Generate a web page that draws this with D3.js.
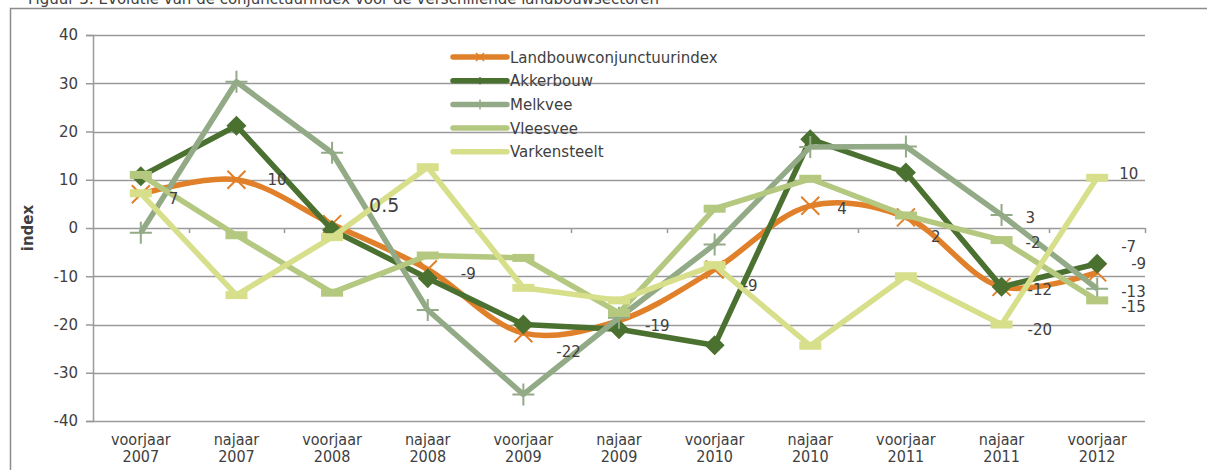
<!DOCTYPE html>
<html>
<head>
<meta charset="utf-8">
<style>
  body { margin: 0; background: #fff; }
  svg { display: block; font-family: "DejaVu Sans", Verdana, sans-serif; }
</style>
</head>
<body>
<svg width="1207" height="470"></svg>
<script src="https://d3js.org/d3.v7.min.js"></script>
<script>

var categories = [
  ["voorjaar", "2007"], ["najaar", "2007"], ["voorjaar", "2008"], ["najaar", "2008"],
  ["voorjaar", "2009"], ["najaar", "2009"], ["voorjaar", "2010"], ["najaar", "2010"],
  ["voorjaar", "2011"], ["najaar", "2011"], ["voorjaar", "2012"]
];

var landbouw     = [7, 10, 0.8, -8.6, -21.8, -19.2, -8.6, 4.6, 2.2, -12.2, -9.2];
var akkerbouw    = [10.7, 21.2, -0.4, -10.4, -20, -21, -24.3, 18.4, 11.5, -12.2, -7.4];
var melkvee      = [-1, 30.3, 15.6, -17, -34.5, -18.6, -3.4, 16.8, 16.9, 2.7, -12.6];
var vleesvee     = [11, -1.5, -13.4, -5.7, -6.2, -17.6, 4, 10.2, 2.6, -2.5, -15];
var varkensteelt = [7.2, -13.9, -1.9, 12.6, -12.4, -15, -7.7, -24.4, -10, -20, 10.4];

var yTicks = [40, 30, 20, 10, 0, -10, -20, -30, -40];

var seriesNames = ["Landbouwconjunctuurindex", "Akkerbouw", "Melkvee", "Vleesvee", "Varkensteelt"];

// data labels: series index, point index, text
var dataLabels = [
  [0, 0, "7"], [0, 1, "10"], [0, 2, "0.5"], [0, 3, "-9"], [0, 4, "-22"], [0, 5, "-19"],
  [0, 6, "-9"], [0, 7, "4"], [0, 8, "2"], [0, 9, "-12"], [0, 10, "-9"],
  [1, 10, "-7"], [2, 9, "3"], [2, 10, "-13"], [3, 9, "-2"], [3, 10, "-15"],
  [4, 9, "-20"], [4, 10, "10"]
];

var svg = d3.select("svg"),
    margin = {top: 35, right: 62, bottom: 49, left: 93},
    width = +svg.attr("width") - margin.left - margin.right,
    height = +svg.attr("height") - margin.top - margin.bottom,
    g = svg.append("g").attr("transform", "translate(" + margin.left + "," + margin.top + ")");

var colors = ["#e0802a", "#4a7130", "#93aa86", "#b4c880", "#d7df8b"];
var gridColor = "#9a9a9a";
var textColor = "#404040";

// title (cut off at the top) and outer frame
svg.append("text")
  .attr("x", 28).attr("y", 4)
  .attr("font-size", 15).attr("fill", textColor)
  .text("Figuur 3: Evolutie van de conjunctuurindex voor de verschillende landbouwsectoren");

svg.append("path")
  .attr("d", "M10.5,470 V8.5 H1207")
  .attr("fill", "none").attr("stroke", "#8c8c8c").attr("stroke-width", 1.5);

var x = d3.scaleBand()
  .domain(d3.range(categories.length))
  .range([0, width]);

var y = d3.scaleLinear()
  .domain([-40, 40])
  .range([height, 0]);

var cx = function(i) { return x(i) + x.bandwidth() / 2; };

// gridlines
g.append("g")
  .selectAll("line")
  .data(yTicks)
  .join("line")
  .attr("x1", 0).attr("x2", width)
  .attr("y1", function(d) { return Math.round(y(d)) + 0.5; })
  .attr("y2", function(d) { return Math.round(y(d)) + 0.5; })
  .attr("stroke", gridColor).attr("stroke-width", 1.5);

// y axis
var yAxis = g.append("g")
  .call(d3.axisLeft(y).tickValues(yTicks).tickSize(7).tickPadding(8)
    .tickFormat(function(d) { return String(d); }));
yAxis.select(".domain").attr("stroke", gridColor).attr("stroke-width", 1.5);
yAxis.selectAll(".tick line").attr("stroke", gridColor).attr("stroke-width", 1.5);
yAxis.selectAll("text").attr("font-size", 15).attr("fill", textColor)
  .attr("font-family", "DejaVu Sans, Verdana, sans-serif");

g.append("text")
  .attr("transform", "translate(-60," + (y(0)) + ") rotate(-90)")
  .attr("text-anchor", "middle")
  .attr("font-size", 15).attr("font-weight", "bold").attr("fill", textColor)
  .text("index");

// x axis at zero with ticks between categories
var xAxisG = g.append("g").attr("transform", "translate(0," + y(0) + ")");
xAxisG.selectAll("line")
  .data(d3.range(1, categories.length + 1))
  .join("line")
  .attr("x1", function(i) { return Math.round(x(i) !== undefined ? x(i) : width) + 0.5; })
  .attr("x2", function(i) { return Math.round(x(i) !== undefined ? x(i) : width) + 0.5; })
  .attr("y1", 0).attr("y2", 5)
  .attr("stroke", gridColor).attr("stroke-width", 1.5);

// bottom category labels
var xl = g.append("g").attr("transform", "translate(0," + height + ")");
categories.forEach(function(c, i) {
  var t = xl.append("text")
    .attr("x", cx(i)).attr("y", 24)
    .attr("text-anchor", "middle")
    .attr("font-size", 16).attr("fill", textColor)
    .attr("font-family", "DejaVu Sans Condensed, DejaVu Sans, sans-serif")
    .attr("font-stretch", "condensed");
  t.append("tspan").attr("x", cx(i)).attr("dy", 0).text(c[0]);
  t.append("tspan").attr("x", cx(i)).attr("dy", 17).text(c[1]);
});

var allSeries = [landbouw, akkerbouw, melkvee, vleesvee, varkensteelt];

var straight = d3.line().x(function(d, i) { return cx(i); }).y(function(d) { return y(d); });
var smooth = d3.line().x(function(d, i) { return cx(i); }).y(function(d) { return y(d); })
  .curve(d3.curveCatmullRom.alpha(0.5));

allSeries.forEach(function(vals, s) {
  var sg = g.append("g");
  sg.append("path")
    .datum(vals)
    .attr("fill", "none")
    .attr("stroke", colors[s])
    .attr("stroke-width", 5.5)
    .attr("stroke-linejoin", "round")
    .attr("d", s === 0 ? smooth : straight);

  var m = sg.selectAll("g.mk").data(vals).join("g")
    .attr("transform", function(d, i) { return "translate(" + cx(i) + "," + y(d) + ")"; });

  if (s === 0) {
    m.append("path").attr("d", "M-9,-9L9,9M-9,9L9,-9")
      .attr("stroke", colors[s]).attr("stroke-width", 2);
  } else if (s === 1) {
    m.append("path").attr("d", "M0,-10L10,0L0,10L-10,0Z").attr("fill", colors[s]);
  } else if (s === 2) {
    m.append("path").attr("d", "M-11,0H11M0,-11V11")
      .attr("stroke", colors[s]).attr("stroke-width", 2);
  } else {
    m.append("rect").attr("x", -11).attr("y", -4).attr("width", 22).attr("height", 8)
      .attr("fill", colors[s]);
  }
});

// data labels
var labelOffsets = [
  [28, 10], [31, 5], [37, -12], [33, 10], [33, 24], [26, 10],
  [28, 22], [27, 8], [25, 25], [26, 8], [34, -3],
  [24, -12], [24, 8], [24, 8], [24, 8], [24, 12],
  [26, 10], [22, 1]
];
dataLabels.forEach(function(l, k) {
  var v = allSeries[l[0]][l[1]];
  g.append("text")
    .attr("x", cx(l[1]) + labelOffsets[k][0])
    .attr("y", y(v) + labelOffsets[k][1])
    .attr("font-size", l[2] === "0.5" ? 19 : 15)
    .attr("fill", textColor)
    .text(l[2]);
});

// legend
var legend = svg.append("g").attr("transform", "translate(453,57)");
seriesNames.forEach(function(name, s) {
  var r = legend.append("g").attr("transform", "translate(0," + (s * 23.7) + ")");
  r.append("line").attr("x1", 0).attr("x2", 54).attr("y1", 0).attr("y2", 0)
    .attr("stroke", colors[s]).attr("stroke-width", 5.5).attr("stroke-linecap", "round");
  if (s === 0) {
    r.append("path").attr("d", "M23,-4L31,4M23,4L31,-4").attr("stroke", colors[s]).attr("stroke-width", 1.5);
  } else if (s === 1) {
    r.append("path").attr("d", "M27,-4L31,0L27,4L23,0Z").attr("fill", colors[s]);
  } else if (s === 2) {
    r.append("path").attr("d", "M27,-5V5").attr("stroke", colors[s]).attr("stroke-width", 1.5);
  }
  r.append("text").attr("x", 57).attr("y", 5.5)
    .attr("font-size", 15).attr("fill", textColor).text(name);
});

</script>
</body>
</html>
